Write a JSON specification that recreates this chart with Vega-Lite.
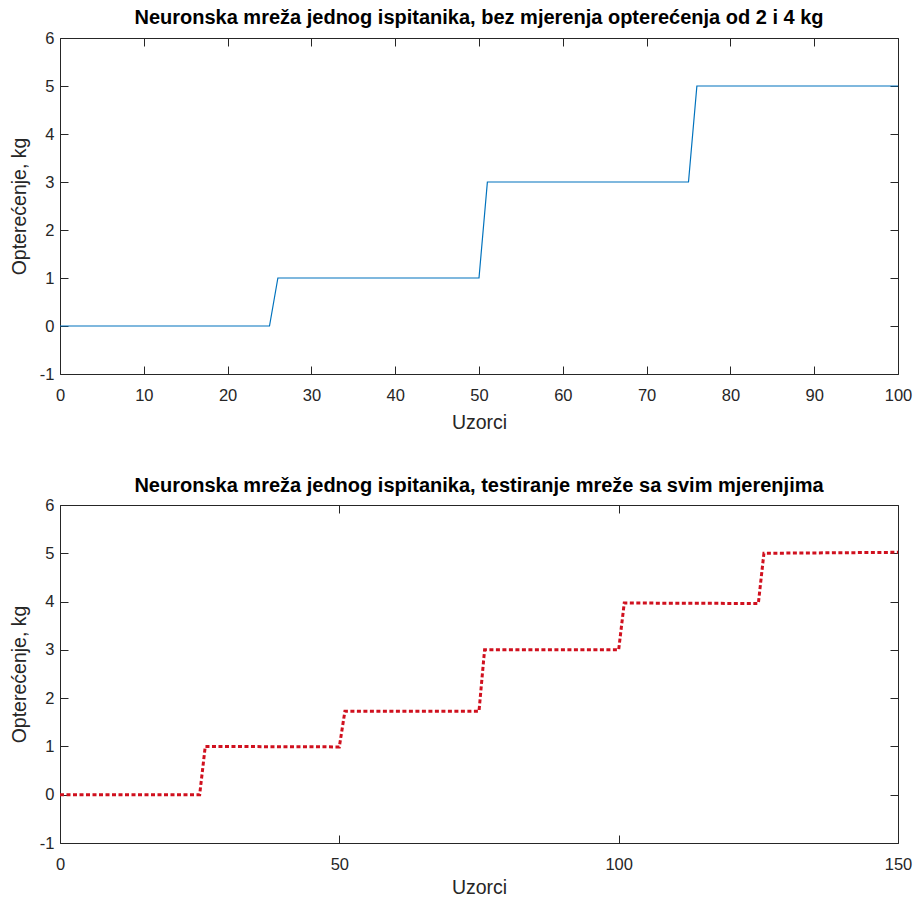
{
  "$schema": "https://vega.github.io/schema/vega-lite/v6.json",
  "padding": {"left": 9, "top": 8, "right": 4, "bottom": 2},
  "background": "white",
  "datasets": {
    "bez24": [
      {"uzorak": 0, "kg": 0}, {"uzorak": 25, "kg": 0},
      {"uzorak": 26, "kg": 1}, {"uzorak": 50, "kg": 1},
      {"uzorak": 51, "kg": 3}, {"uzorak": 75, "kg": 3},
      {"uzorak": 76, "kg": 5}, {"uzorak": 100, "kg": 5}
    ],
    "sva": [
      {"uzorak": 0, "kg": 0}, {"uzorak": 25, "kg": 0},
      {"uzorak": 26, "kg": 1}, {"uzorak": 50, "kg": 0.99},
      {"uzorak": 51, "kg": 1.73}, {"uzorak": 75, "kg": 1.73},
      {"uzorak": 76, "kg": 3}, {"uzorak": 100, "kg": 3},
      {"uzorak": 101, "kg": 3.97}, {"uzorak": 125, "kg": 3.96},
      {"uzorak": 126, "kg": 5}, {"uzorak": 150, "kg": 5.02}
    ]
  },
  "vconcat": [
    {
      "title": {"text": "Neuronska mreža jednog ispitanika, bez mjerenja opterećenja od 2 i 4 kg", "offset": 2},
      "width": 838, "height": 336,
      "data": {"name": "bez24"},
      "layer": [
        {
          "mark": {"type": "line", "color": "#0072BD", "strokeWidth": 1.2},
          "encoding": {
            "x": {"field": "uzorak", "type": "quantitative", "scale": {"domain": [0, 100], "nice": false, "zero": false},
                  "axis": {"orient": "bottom", "title": "Uzorci", "values": [0,10,20,30,40,50,60,70,80,90,100], "labelExpr": "datum.value + ''"}},
            "y": {"field": "kg", "type": "quantitative", "scale": {"domain": [-1, 6], "nice": false, "zero": false},
                  "axis": {"orient": "left", "title": "Opterećenje, kg", "values": [-1,0,1,2,3,4,5,6], "labelExpr": "datum.value + ''"}}
          }
        },
        {
          "mark": {"type": "line", "strokeOpacity": 0},
          "encoding": {
            "x": {"field": "uzorak", "type": "quantitative", "axis": {"orient": "top", "title": null, "labels": false, "values": [0,10,20,30,40,50,60,70,80,90,100]}},
            "y": {"field": "kg", "type": "quantitative", "axis": {"orient": "right", "title": null, "labels": false, "values": [-1,0,1,2,3,4,5,6]}}
          }
        }
      ],
      "resolve": {"axis": {"x": "independent", "y": "independent"}}
    },
    {
      "title": {"text": "Neuronska mreža jednog ispitanika, testiranje mreže sa svim mjerenjima", "offset": 1},
      "width": 838, "height": 338,
      "data": {"name": "sva"},
      "layer": [
        {
          "mark": {"type": "line", "color": "#d0101e", "strokeWidth": 3, "strokeDash": [4, 2.5], "strokeCap": "butt"},
          "encoding": {
            "x": {"field": "uzorak", "type": "quantitative", "scale": {"domain": [0, 150], "nice": false, "zero": false},
                  "axis": {"orient": "bottom", "title": "Uzorci", "titlePadding": 6, "values": [0,50,100,150], "labelExpr": "datum.value + ''"}},
            "y": {"field": "kg", "type": "quantitative", "scale": {"domain": [-1, 6], "nice": false, "zero": false},
                  "axis": {"orient": "left", "title": "Opterećenje, kg", "values": [-1,0,1,2,3,4,5,6], "labelExpr": "datum.value + ''"}}
          }
        },
        {
          "mark": {"type": "line", "strokeOpacity": 0},
          "encoding": {
            "x": {"field": "uzorak", "type": "quantitative", "axis": {"orient": "top", "title": null, "labels": false, "values": [0,50,100,150]}},
            "y": {"field": "kg", "type": "quantitative", "axis": {"orient": "right", "title": null, "labels": false, "values": [-1,0,1,2,3,4,5,6]}}
          }
        }
      ],
      "resolve": {"axis": {"x": "independent", "y": "independent"}}
    }
  ],
  "spacing": 131,
  "bounds": "flush",
  "config": {
    "view": {"stroke": null},
    "font": "Liberation Sans",
    "title": {"font": "Liberation Sans", "fontSize": 20, "fontWeight": "bold", "color": "#000000", "anchor": "middle"},
    "axis": {
      "grid": false, "minExtent": 0,
      "domainColor": "#262626", "domainWidth": 1,
      "tickColor": "#262626", "tickWidth": 1, "tickSize": -8,
      "labelColor": "#262626", "labelFont": "Liberation Sans", "labelFontSize": 16.5,
      "labelFlush": false, "labelOverlap": false,
      "titleColor": "#262626", "titleFont": "Liberation Sans", "titleFontSize": 19.5, "titleFontWeight": "normal"
    },
    "axisBottom": {"labelPadding": 21, "titlePadding": 10},
    "axisLeft": {"labelPadding": 14, "titlePadding": 10}
  }
}
